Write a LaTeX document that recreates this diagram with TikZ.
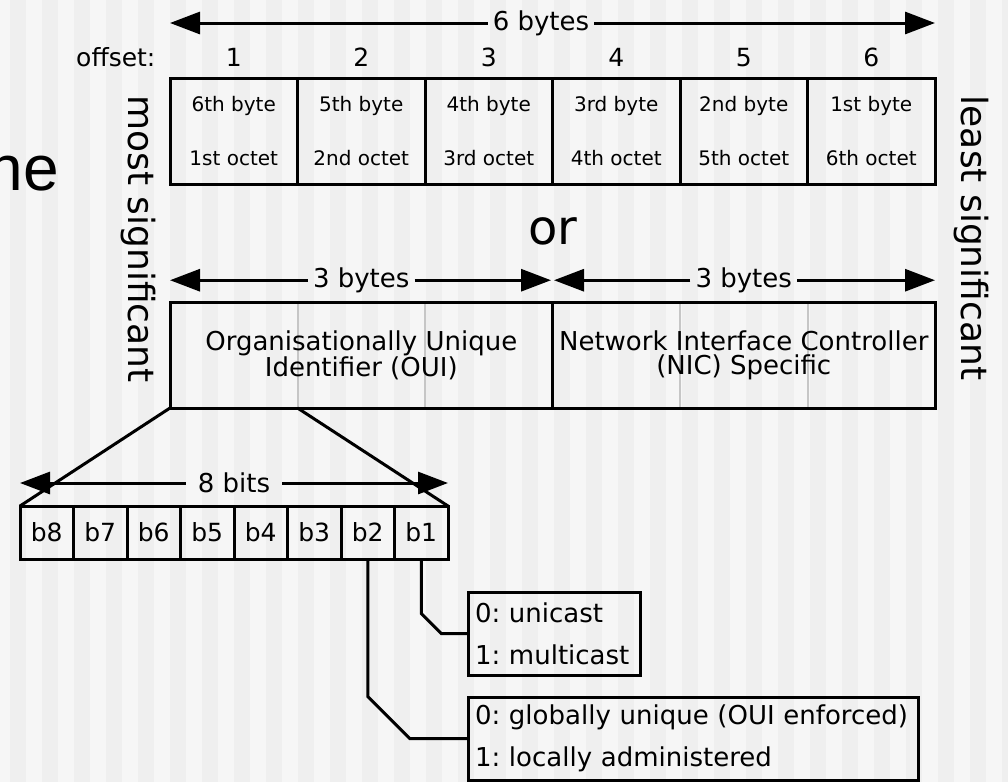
\documentclass[tikz,border=0pt]{standalone}
\usepackage{fontspec}
\setmainfont{DejaVu Sans}
\newfontfamily\slidefont{Liberation Sans}
\usetikzlibrary{arrows.meta,positioning}
\definecolor{MacPaper}{RGB}{246,246,246}
\definecolor{MacStripe}{RGB}{239,239,239}
\definecolor{MacRule}{RGB}{198,198,198}
\frenchspacing

\begin{document}
\begin{tikzpicture}[x=1pt,y=-1pt,
  node distance=0pt,
  cell/.style={draw,line width=3pt,outer sep=0pt,inner sep=0pt,minimum width=127.5pt,
               minimum height=106pt,align=center,font=\fontsize{20}{54}\selectfont},
  half/.style={draw,line width=3pt,outer sep=0pt,inner sep=0pt,minimum width=382.5pt,
               minimum height=106pt,align=center,font=\fontsize{26}{24}\selectfont},
  bit/.style={draw,line width=3pt,outer sep=0pt,inner sep=0pt,minimum width=53.5pt,
              minimum height=53pt,font=\fontsize{25}{28}\selectfont},
  legend/.style={draw,line width=3pt,outer sep=0pt,inner xsep=7pt,inner ysep=0pt,
                 anchor=north west,align=left,minimum height=83pt,font=\fontsize{26}{42}\selectfont},
  num/.style={inner sep=0pt,font=\fontsize{25}{30}\selectfont},
  dim/.style={inner sep=5pt,font=\fontsize{26}{30}\selectfont},
  side/.style={rotate=-90,inner sep=0pt,font=\fontsize{36}{40}\selectfont},
  arrow/.style={-{Triangle[length=30pt,width=22pt]},line width=3pt},
  wire/.style={line width=3pt},
  rule/.style={draw=MacRule,line width=2pt}
]
\useasboundingbox (0,0) rectangle (1008,782);
\fill[MacPaper] (0,0) rectangle (1008,782);
\foreach \x in {10,42,...,1002} \fill[MacStripe] (\x,0) rectangle ++(16,782);

\node[font=\slidefont\fontsize{64}{70}\selectfont,anchor=base east,inner sep=0pt] (he) at (59,190) {he};

\node[cell,anchor=north west] (byte1) at (170,78) {6th byte\\1st octet};
\node[cell,right=of byte1] (byte2) {5th byte\\2nd octet};
\node[cell,right=of byte2] (byte3) {4th byte\\3rd octet};
\node[cell,right=of byte3] (byte4) {3rd byte\\4th octet};
\node[cell,right=of byte4] (byte5) {2nd byte\\5th octet};
\node[cell,right=of byte5] (byte6) {1st byte\\6th octet};

\node[num,above=11pt of byte1] (off1) {1};
\node[num,above=11pt of byte2] (off2) {2};
\node[num,above=11pt of byte3] (off3) {3};
\node[num,above=11pt of byte4] (off4) {4};
\node[num,above=11pt of byte5] (off5) {5};
\node[num,above=11pt of byte6] (off6) {6};
\node[num,base left=70pt of off1] (offset) {offset:};

\node[dim] (sixbytes) at (541,23) {6 bytes};
\draw[arrow] (sixbytes.west) -- (byte1.west |- sixbytes);
\draw[arrow] (sixbytes.east) -- (byte6.east |- sixbytes);

\node[side] (msb) at (138,239) {most significant};
\node[side] (lsb) at (971,238) {least significant};
\node[font=\fontsize{48}{50}\selectfont,inner sep=0pt] (or) at (553,231) {or};

\draw[rule] (byte2.west |- 0,302) -- (byte2.west |- 0,408);
\draw[rule] (byte3.west |- 0,302) -- (byte3.west |- 0,408);
\draw[rule] (byte5.west |- 0,302) -- (byte5.west |- 0,408);
\draw[rule] (byte6.west |- 0,302) -- (byte6.west |- 0,408);
\node[half,anchor=north west] (oui) at (170,302) {Organisationally Unique\\Identifier (OUI)};
\node[half,right=of oui] (nic) {Network Interface Controller\\(NIC) Specific};

\node[dim,above=4pt of oui] (ouibytes) {3 bytes};
\node[dim,above=4pt of nic] (nicbytes) {3 bytes};
\draw[arrow] (ouibytes.west) -- (oui.west |- ouibytes);
\draw[arrow] (ouibytes.east) -- ([xshift=-1.5pt]oui.east |- ouibytes);
\draw[arrow] (nicbytes.west) -- ([xshift=1.5pt]nic.west |- nicbytes);
\draw[arrow] (nicbytes.east) -- (nic.east |- nicbytes);

\node[bit,anchor=north west] (bit8) at (20,506) {b8};
\node[bit,right=of bit8] (bit7) {b7};
\node[bit,right=of bit7] (bit6) {b6};
\node[bit,right=of bit6] (bit5) {b5};
\node[bit,right=of bit5] (bit4) {b4};
\node[bit,right=of bit4] (bit3) {b3};
\node[bit,right=of bit3] (bit2) {b2};
\node[bit,right=of bit2] (bit1) {b1};

\draw[wire] (oui.south west) -- (bit8.north west);
\draw[wire] (byte2.west |- oui.south) -- (bit1.north east);

\node[dim,inner xsep=12pt] (eightbits) at (234,483) {8 bits};
\draw[arrow] (eightbits.west) -- (bit8.west |- eightbits);
\draw[arrow] (eightbits.east) -- (bit1.east |- eightbits);

\node[legend,text width=158pt] (cast) at (468,592) {0: unicast\\1: multicast};
\node[legend,text width=436pt] (admin) at (468,697) {0: globally unique (OUI enforced)\\1: locally administered};

\draw[wire] (bit1.south) -- ([yshift=20pt]bit1.south |- cast.west) -- ([xshift=20pt]bit1.south |- cast.west) -- (cast.west);
\draw[wire] (bit2.south) -- ([yshift=42pt]bit2.south |- admin.west) -- ([xshift=42pt]bit2.south |- admin.west) -- (admin.west);
\end{tikzpicture}
\end{document}
